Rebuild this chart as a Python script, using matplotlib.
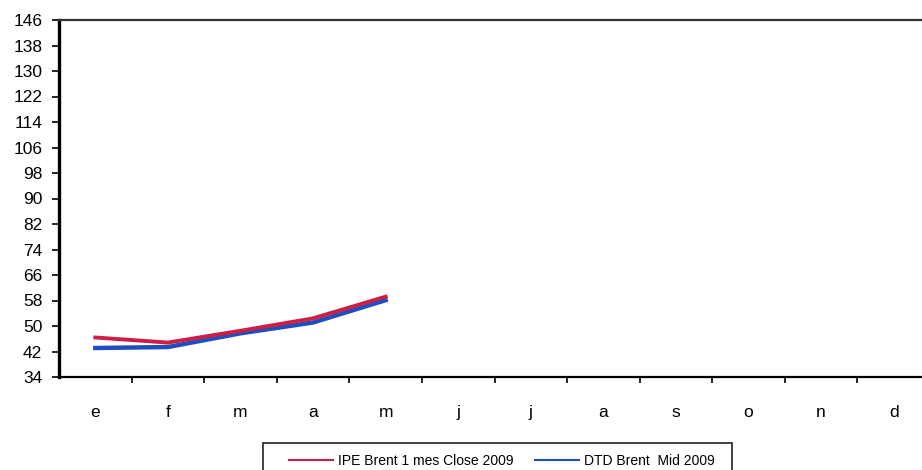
import matplotlib
matplotlib.use("Agg")
import matplotlib.pyplot as plt
from matplotlib.ticker import FixedLocator
from matplotlib.patches import Rectangle

plt.rcParams['font.family'] = ['Liberation Sans', 'DejaVu Sans']

months = ['e', 'f', 'm', 'a', 'm', 'j', 'j', 'a', 's', 'o', 'n', 'd']
ipe_brent = [46.4, 44.8, 48.5, 52.4, 59.2]
dtd_brent = [43.1, 43.4, 47.7, 51.1, 58.1]
yticks = [34, 42, 50, 58, 66, 74, 82, 90, 98, 106, 114, 122, 130, 138, 146]

fig = plt.figure(figsize=(9.22, 4.70), dpi=100)
ax = fig.add_axes([59/922, 93/470, 871/922, 357/470])

x = list(range(len(months)))
ax.plot(x[:len(dtd_brent)], dtd_brent, color='#1f4fbf', lw=3.2, solid_joinstyle='round',
        label='DTD Brent  Mid 2009', zorder=3)
ax.plot(x[:len(ipe_brent)], ipe_brent, color='#cc1f45', lw=2.8, solid_joinstyle='round',
        label='IPE Brent 1 mes Close 2009', zorder=4)

ax.set_xlim(-0.5, len(months) - 0.5)
ax.set_ylim(34, 146)
ax.set_yticks(yticks)
ax.set_yticklabels([str(v) for v in yticks], fontsize=12.5)
ax.set_xticks(x)
ax.set_xticklabels(months, fontsize=12.5)
ax.tick_params(axis='x', which='major', length=0, pad=20)
ax.xaxis.set_minor_locator(FixedLocator([i + 0.5 for i in x[:-1]]))
ax.tick_params(axis='x', which='minor', length=4, width=1.2, direction='out', color='black')
ax.tick_params(axis='y', length=5, width=1.2, direction='out', pad=7)

ax.spines['left'].set_linewidth(2.4)
ax.spines['bottom'].set_linewidth(1.6)
ax.spines['top'].set_linewidth(1.6)
ax.spines['top'].set_color('#333333')
ax.spines['right'].set_visible(False)

# legend frame
fig.patches.append(Rectangle((263/922, -0.02), 469/922, 0.02 + (470-443)/470,
                             transform=fig.transFigure, fill=False,
                             edgecolor='#222222', linewidth=1.2))
h, l = ax.get_legend_handles_labels()
leg = fig.legend(h[::-1], l[::-1], loc='center left', ncol=2,
                 bbox_to_anchor=(289/922, 1 - 461/470), fontsize=10,
                 frameon=False, handlelength=3.2, borderpad=0.0, borderaxespad=0.0,
                 columnspacing=1.5, handletextpad=0.35)
for line in leg.get_lines():
    line.set_linewidth(1.5)

fig.savefig('out.png', dpi=100)
